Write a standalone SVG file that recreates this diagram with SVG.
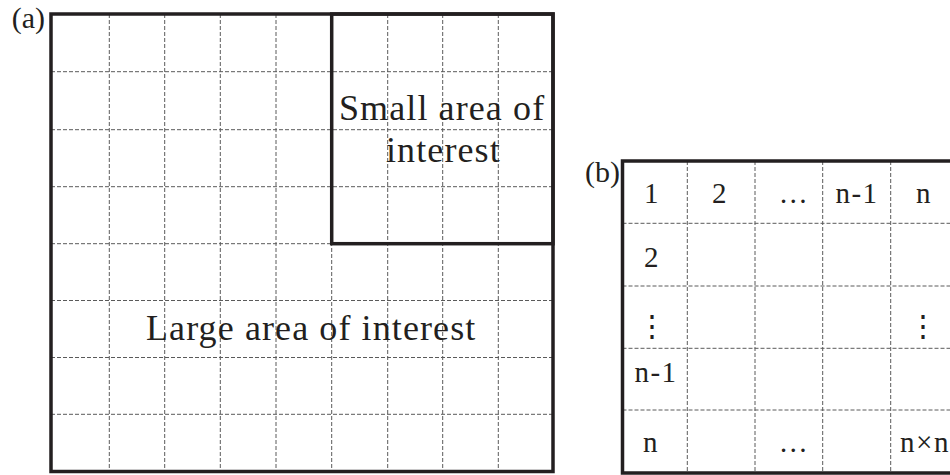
<svg xmlns="http://www.w3.org/2000/svg" width="950" height="475" viewBox="0 0 950 475">
<style>
  .grid { stroke: #5a5a5a; stroke-width: 1; stroke-dasharray: 4 2; fill: none; }
  .frame { stroke: #231f20; stroke-width: 3.5; fill: none; }
  .t { font-family: "Liberation Serif", "Times New Roman", serif; fill: #231f20; }
  .big { font-size: 36px; letter-spacing: 1.1px; }
  .cell { font-size: 29px; letter-spacing: 1.5px; text-anchor: middle; }
  .lbl { font-size: 30px; text-anchor: end; }
  .vd { font-family: "DejaVu Serif", serif; font-size: 30px; fill: #231f20; text-anchor: middle; }
</style>
<rect width="950" height="475" fill="#ffffff"/>

<g id="panel-a">
  <g id="grid-a" class="grid">
    <path d="M109.3 14V471.5M164.7 14V471.5M220.3 14V471.5M276 14V471.5M331.7 14V471.5M387.7 14V471.5M442.7 14V471.5M498.3 14V471.5"/>
    <path d="M51 71.7H553M51 129.7H553M51 186.7H553M51 243.7H553M51 300.5H553M51 357.5H553M51 414.3H553"/>
  </g>
  <g id="large-area">
    <rect class="frame" x="51" y="14" width="502" height="457.5"/>
    <text class="t big" x="146" y="340">Large area of interest</text>
  </g>
  <g id="small-area">
    <rect class="frame" x="331.7" y="14" width="221.3" height="229.7"/>
    <text class="t big" x="339" y="120">Small area of</text>
    <text class="t big" x="386" y="162">interest</text>
  </g>
  <text id="label-a" class="t lbl" x="45" y="28">(a)</text>
</g>

<g id="panel-b">
  <g id="grid-b" class="grid">
    <path d="M687.3 161V473M755 161V473M822.7 161V473M890.7 161V473"/>
    <path d="M622.5 223.3H950M622.5 286H950M622.5 348.3H950M622.5 410H950"/>
  </g>
  <g id="table">
    <path class="frame" d="M952 161H622.5V473H952"/>
  </g>
  <g id="cells">
    <text class="t cell" x="652" y="203">1</text>
    <text class="t cell" x="720" y="203">2</text>
    <text class="t cell" x="794" y="203">…</text>
    <text class="t cell" x="857" y="203">n-1</text>
    <text class="t cell" x="924" y="203">n</text>
    <text class="t cell" x="652" y="267">2</text>
    <text class="vd" x="652" y="336">⋮</text>
    <text class="vd" x="923" y="336">⋮</text>
    <text class="t cell" x="656" y="382">n-1</text>
    <text class="t cell" x="651" y="452">n</text>
    <text class="t cell" x="794" y="452">…</text>
    <text class="t cell" x="925" y="452">n×n</text>
  </g>
  <text id="label-b" class="t lbl" x="620" y="182">(b)</text>
</g>
</svg>
